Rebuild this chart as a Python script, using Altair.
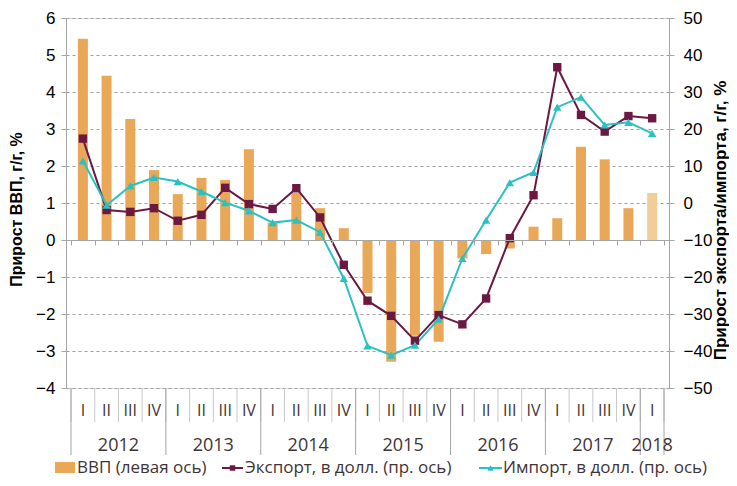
import altair as alt
import pandas as pd

# ---- data ----
quarter_labels = ["I", "II", "III", "IV", "I", "II", "III", "IV", "I", "II", "III", "IV",
                  "I", "II", "III", "IV", "I", "II", "III", "IV", "I", "II", "III", "IV", "I"]
years = ["2012", "2013", "2014", "2015", "2016", "2017", "2018"]
year_quarters = [4, 4, 4, 4, 4, 4, 1]

gdp = [5.44, 4.44, 3.27, 1.89, 1.24, 1.68, 1.62, 2.45, 0.47, 1.28, 0.86, 0.32,
       -1.43, -3.29, -2.59, -2.75, -0.50, -0.38, -0.23, 0.36, 0.59, 2.52, 2.18, 0.86, 1.27]
export = [17.4, -1.9, -2.4, -1.4, -4.8, -3.2, 4.1, -0.3, -1.6, 4.0, -3.9, -16.7,
          -26.4, -30.5, -37.2, -30.3, -32.8, -25.8, -9.5, 2.1, 36.7, 23.8, 19.3, 23.5, 22.9]
imports = [11.4, -0.6, 4.6, 6.9, 5.8, 3.1, 0.1, -2.1, -5.3, -4.6, -7.9, -20.4,
           -38.6, -41.1, -38.4, -31.4, -15.0, -4.6, 5.5, 8.3, 25.9, 28.6, 21.1, 21.8, 18.8]

s_gdp = "ВВП (левая ось)"
s_exp = "Экспорт, в долл. (пр. ось)"
s_imp = "Импорт, в долл. (пр. ось)"

# ---- styles ----
C_BAR = "#E8A857"
C_BAR_EST = "#F2CD99"
C_EXP = "#6B1843"
C_IMP = "#2CC1C1"
C_TXT = "#3F3437"
C_AX = "#A6A6A6"
FONT = "Open Sans"

n = len(gdp)
bars_df = pd.DataFrame({"pos": [i + 0.5 for i in range(n)], "idx": list(range(n)),
                        "gdp": gdp, "q": quarter_labels})
lines_df = pd.DataFrame({
    "pos": [i + 0.5 for i in range(n)] * 2,
    "value": export + imports,
    "series": [s_exp] * n + [s_imp] * n,
})
starts = []
acc = 0
for k in year_quarters:
    starts.append(acc)
    acc += k
years_df = pd.DataFrame({"pos": [s + k / 2 for s, k in zip(starts, year_quarters)], "year": years})
ysep_df = pd.DataFrame({"pos": starts + [acc]})
qsep_df = pd.DataFrame({"pos": list(range(n + 1))})

W, H = 603, 370
xscale = alt.Scale(domain=[0, n], nice=False, zero=False)
xaxis = alt.Axis(values=list(range(n + 1)), labels=False, tickSize=5, offset=-148,
                 domainColor=C_AX, tickColor=C_AX, grid=False, title=None, zindex=1)

def X():
    return alt.X("pos:Q", scale=xscale, axis=xaxis)

bars = alt.Chart(bars_df).mark_bar(size=10).encode(
    x=X(),
    y=alt.Y("gdp:Q", scale=alt.Scale(domain=[-4, 6], nice=False),
            axis=alt.Axis(orient="left", values=list(range(-4, 7)), grid=True,
                          gridDash=[3, 3], gridColor="#A0A0A0", tickSize=5,
                          tickColor=C_AX, domainColor=C_AX, labelPadding=6,
                          labelFontSize=17, title="Прирост ВВП, г/г, %",
                          titleFontSize=16, titleFontWeight="bold",
                          titleAngle=270, titleX=-50, titleY=191,
                          titleAlign="center", titleBaseline="middle")),
    color=alt.condition("datum.idx == 24", alt.value(C_BAR_EST), alt.value(C_BAR)),
)

yright = alt.Y("value:Q", scale=alt.Scale(domain=[-50, 50], nice=False),
               axis=alt.Axis(orient="right", values=list(range(-50, 51, 10)), grid=False,
                             tickSize=5, tickColor=C_AX, domainColor=C_AX, labelPadding=9,
                             labelFontSize=17, title="Прирост экспорта/импорта, г/г, %",
                             titleFontSize=17, titleFontWeight="bold",
                             titleAngle=270, titleX=51, titleY=202,
                             titleAlign="center", titleBaseline="middle"))
cscale = alt.Scale(domain=[s_exp, s_imp], range=[C_EXP, C_IMP])
lines = alt.Chart(lines_df).mark_line(strokeWidth=2).encode(
    x=X(), y=yright, color=alt.Color("series:N", scale=cscale, legend=None),
    detail="series:N")
points = alt.Chart(lines_df).mark_point(filled=True, opacity=1, size=70).encode(
    x=X(), y=yright, color=alt.Color("series:N", scale=cscale, legend=None),
    shape=alt.Shape("series:N", scale=alt.Scale(domain=[s_exp, s_imp],
                                                range=["square", "triangle-up"]), legend=None))
line_group = alt.layer(lines, points)

qsep = alt.Chart(qsep_df).mark_rule(color="#C8C8C8", strokeWidth=1).encode(
    x=X(), y=alt.value(H), y2=alt.value(H + 34))
ysep = alt.Chart(ysep_df).mark_rule(color=C_AX, strokeWidth=1).encode(
    x=X(), y=alt.value(H), y2=alt.value(H + 67))
qtext = alt.Chart(bars_df).mark_text(font=FONT, fontSize=16, color=C_TXT, baseline="middle").encode(
    x=X(), y=alt.value(H + 23), text="q:N")
ytext = alt.Chart(years_df).mark_text(font=FONT, fontSize=18, color=C_TXT, baseline="middle").encode(
    x=X(), y=alt.value(H + 58), text="year:N")

# ---- manual legend ----
LY = 450
LF = 17
def one(label):
    return alt.Data(values=[{"label": label}])

leg_items = [
    alt.Chart(one(s_gdp)).mark_rect(color=C_BAR).encode(
        x=alt.value(-11), x2=alt.value(9), y=alt.value(LY - 6), y2=alt.value(LY + 5)),
    alt.Chart(one(s_gdp)).mark_text(font=FONT, fontSize=LF, color=C_TXT, align="left",
                                    baseline="middle").encode(
        x=alt.value(11), y=alt.value(LY), text="label:N"),
    alt.Chart(one(s_exp)).mark_rule(color=C_EXP, strokeWidth=2).encode(
        x=alt.value(156), x2=alt.value(177), y=alt.value(LY)),
    alt.Chart(one(s_exp)).mark_point(shape="square", filled=True, opacity=1, size=30,
                                     color=C_EXP).encode(x=alt.value(166.5), y=alt.value(LY)),
    alt.Chart(one(s_exp)).mark_text(font=FONT, fontSize=LF, color=C_TXT, align="left",
                                    baseline="middle").encode(
        x=alt.value(179), y=alt.value(LY), text="label:N"),
    alt.Chart(one(s_imp)).mark_rule(color=C_IMP, strokeWidth=2).encode(
        x=alt.value(413), x2=alt.value(436), y=alt.value(LY)),
    alt.Chart(one(s_imp)).mark_point(shape="triangle-up", filled=True, opacity=1, size=40,
                                     color=C_IMP).encode(x=alt.value(424.5), y=alt.value(LY)),
    alt.Chart(one(s_imp)).mark_text(font=FONT, fontSize=LF, color=C_TXT, align="left",
                                    baseline="middle").encode(
        x=alt.value(437), y=alt.value(LY), text="label:N"),
]

chart = alt.layer(bars, line_group, qsep, ysep, qtext, ytext, *leg_items).resolve_scale(
    y="independent"
).properties(
    width=W, height=H,
    autosize=alt.AutoSizeParams(type="none"),
    padding={"left": 58, "top": 10, "right": 60, "bottom": 90},
).configure_view(stroke=None).configure_axis(
    labelFont=FONT, titleFont=FONT, labelColor=C_TXT, titleColor=C_TXT,
).configure(background="white")

chart.save("out.html", embed_options={"renderer": "svg", "actions": False})
